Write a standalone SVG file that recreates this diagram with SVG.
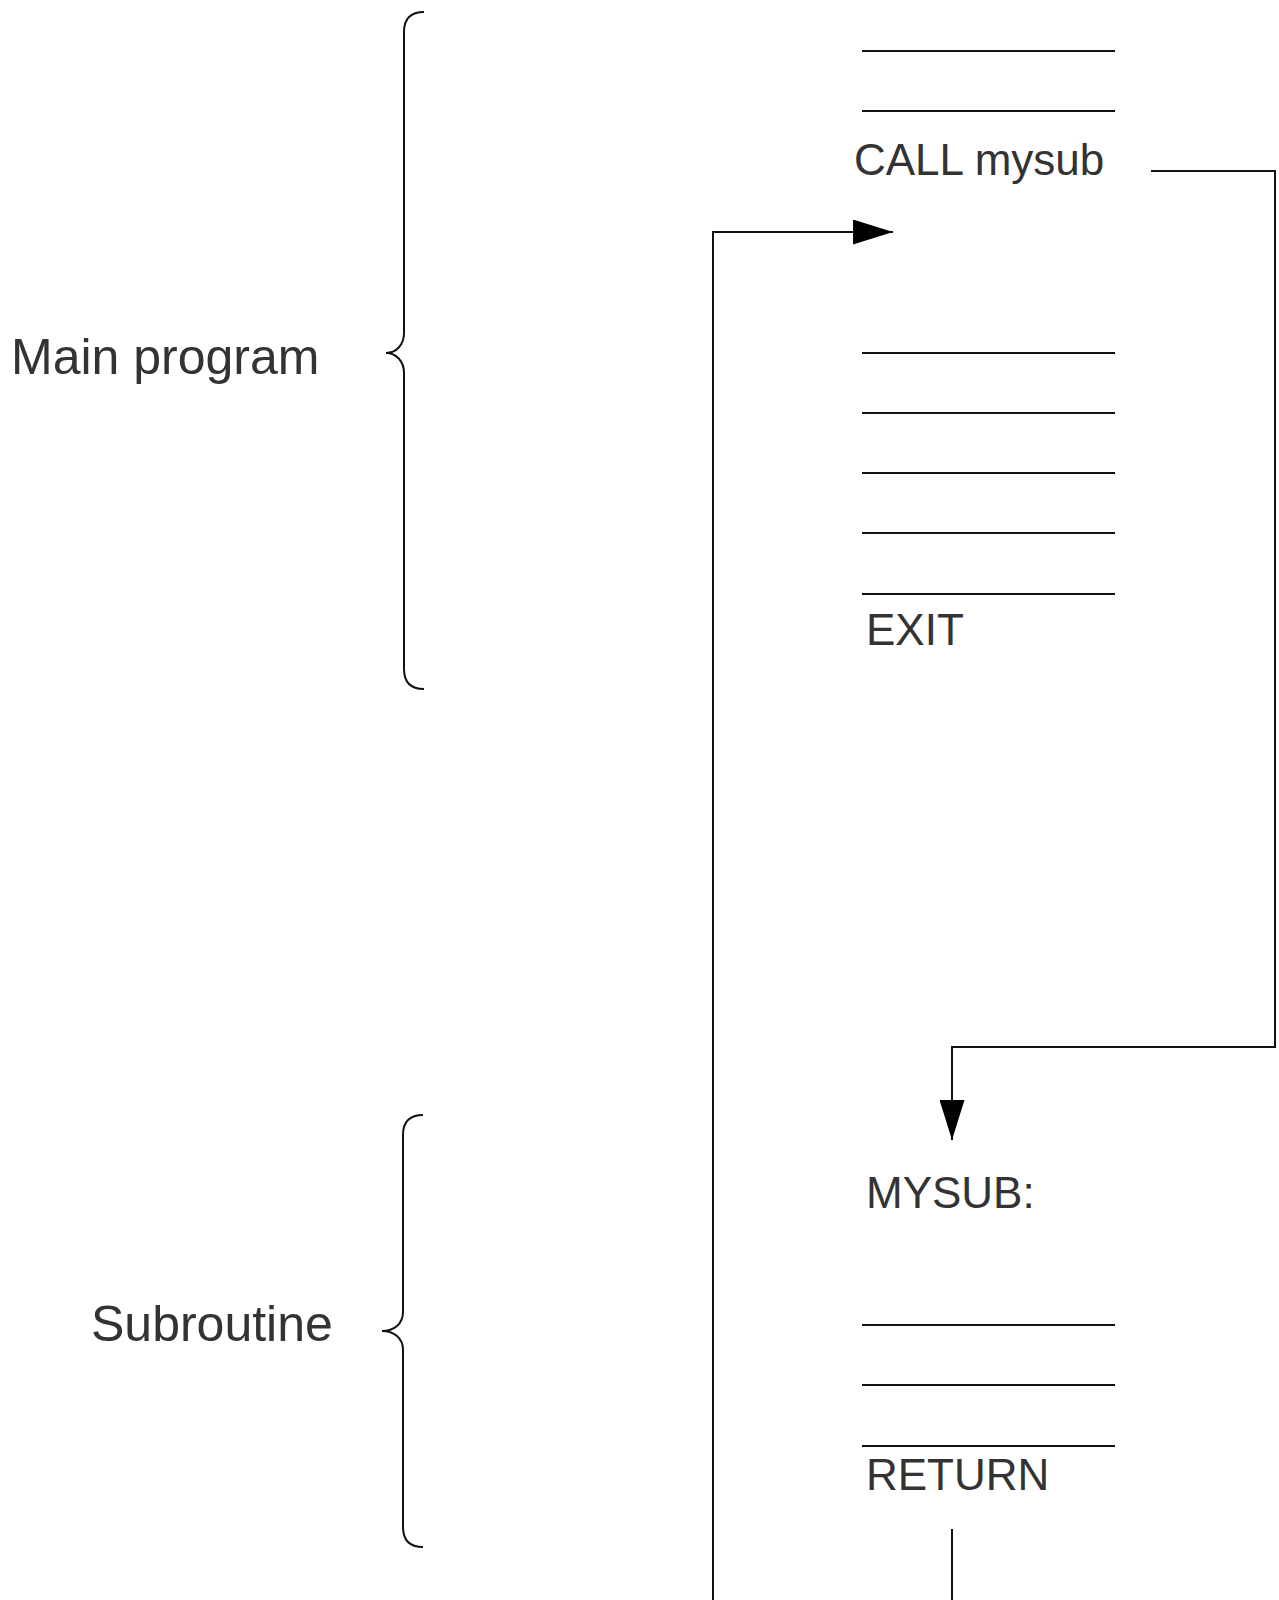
<svg xmlns="http://www.w3.org/2000/svg" width="1279" height="1600" viewBox="0 0 1279 1600">
<style>
.t{font-family:"Liberation Sans",Arial,sans-serif;fill:#333333}
.big{font-size:50px}
.code{font-size:44px}
.ln{stroke:#111111;stroke-width:2;fill:none}
.br{stroke:#111111;stroke-width:2;fill:none}
.cn{stroke:#111111;stroke-width:2;fill:none}
</style>
<defs>
<marker id="arr" markerWidth="40" markerHeight="25" refX="40" refY="12.5" orient="auto" markerUnits="userSpaceOnUse">
<path d="M0,0 L40,12.5 L0,25 Z" fill="#000000"/>
</marker>
</defs>
<rect width="1279" height="1600" fill="#ffffff"/>
<g id="main-label">
<text class="t big" x="11" y="374">Main program</text>
<path class="br" d="M424,12 C410,12 404,20 404,32 L404,333 C404,345 396,353 386,353 C396,353 404,361 404,373 L404,669 C404,681 410,689 424,689"/>
</g>
<g id="sub-label">
<text class="t big" x="91" y="1341">Subroutine</text>
<path class="br" d="M423,1115 C409,1115 403,1123 403,1135 L403,1312 C403,1324 394,1331 382,1331 C394,1331 403,1338 403,1350 L403,1527 C403,1539 409,1547 423,1547"/>
</g>
<g id="main-code">
<line class="ln" x1="862" y1="51" x2="1115" y2="51"/>
<line class="ln" x1="862" y1="111" x2="1115" y2="111"/>
<text class="t code" x="854" y="175">CALL mysub</text>
<line class="ln" x1="862" y1="353" x2="1115" y2="353"/>
<line class="ln" x1="862" y1="413" x2="1115" y2="413"/>
<line class="ln" x1="862" y1="473" x2="1115" y2="473"/>
<line class="ln" x1="862" y1="533" x2="1115" y2="533"/>
<line class="ln" x1="862" y1="594" x2="1115" y2="594"/>
<text class="t code" x="866" y="645">EXIT</text>
</g>
<g id="sub-code">
<text class="t code" x="866" y="1208">MYSUB:</text>
<line class="ln" x1="862" y1="1325" x2="1115" y2="1325"/>
<line class="ln" x1="862" y1="1385" x2="1115" y2="1385"/>
<line class="ln" x1="862" y1="1446" x2="1115" y2="1446"/>
<text class="t code" x="866" y="1490">RETURN</text>
</g>
<g id="connectors">
<path class="cn" d="M1151,171 H1275 V1047 H952 V1140" marker-end="url(#arr)"/>
<path class="cn" d="M952,1529 V1620 H713 V232 H893" marker-end="url(#arr)"/>
</g>
</svg>
